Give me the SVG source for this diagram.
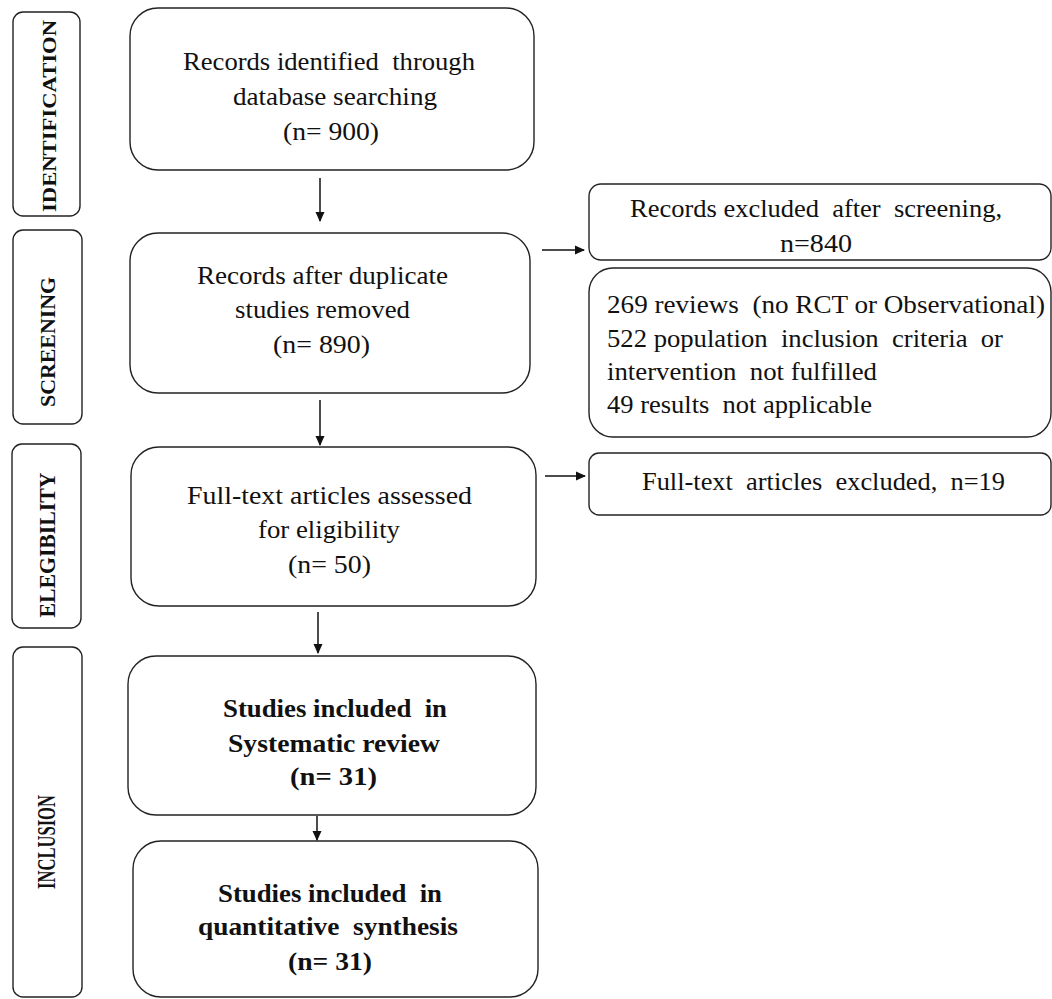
<svg xmlns="http://www.w3.org/2000/svg" width="1052" height="999" viewBox="0 0 1052 999">
<style>
text{font-family:"Liberation Serif","Times New Roman","DejaVu Serif",serif;fill:#111;white-space:pre}
.box{fill:#fff;stroke:#222;stroke-width:1.4}
.t{font-size:25px}
.b{font-size:25px;font-weight:bold}
.s{font-weight:bold;text-anchor:middle}
.c{stroke:#111;stroke-width:1.5;fill:none;marker-end:url(#ah)}
</style>
<defs>
<marker id="ah" markerWidth="10" markerHeight="10" refX="9" refY="5" orient="auto" markerUnits="userSpaceOnUse">
<path d="M0,0.5 L10,5 L0,9.5 Z" fill="#111"/>
</marker>
</defs>
<rect width="1052" height="999" fill="#fff"/>
<g id="side-identification">
<rect class="box" x="13" y="12" width="67" height="204" rx="10"/>
<text class="s" font-size="19.5" transform="translate(56,116) rotate(-90)" textLength="192" lengthAdjust="spacingAndGlyphs">IDENTIFICATION</text>
</g>
<g id="side-screening">
<rect class="box" x="13" y="230" width="69" height="194" rx="10"/>
<text class="s" font-size="22" transform="translate(55,342) rotate(-90)" textLength="130" lengthAdjust="spacingAndGlyphs">SCREENING</text>
</g>
<g id="side-elegibility">
<rect class="box" x="12" y="444" width="69" height="184" rx="10"/>
<text class="s" font-size="23" transform="translate(55,545) rotate(-90)" textLength="145" lengthAdjust="spacingAndGlyphs">ELEGIBILITY</text>
</g>
<g id="side-inclusion">
<rect class="box" x="13" y="647" width="69" height="350" rx="10"/>
<text class="s" font-size="25" transform="translate(55,842) rotate(-90)" textLength="94" lengthAdjust="spacingAndGlyphs">INCLUSION</text>
</g>
<g id="n1">
<rect class="box" x="130" y="8" width="404" height="162" rx="28"/>
<text class="t" x="183" y="70" textLength="292" lengthAdjust="spacingAndGlyphs">Records identified  through</text>
<text class="t" x="233" y="105" textLength="204" lengthAdjust="spacingAndGlyphs">database searching</text>
<text class="t" x="283" y="140" textLength="96" lengthAdjust="spacingAndGlyphs">(n= 900)</text>
</g>
<g id="n2">
<rect class="box" x="130" y="233" width="400" height="160" rx="28"/>
<text class="t" x="197" y="284" textLength="251" lengthAdjust="spacingAndGlyphs">Records after duplicate</text>
<text class="t" x="235" y="318" textLength="175" lengthAdjust="spacingAndGlyphs">studies removed</text>
<text class="t" x="273" y="353" textLength="97" lengthAdjust="spacingAndGlyphs">(n= 890)</text>
</g>
<g id="n3">
<rect class="box" x="131" y="447" width="405" height="159" rx="28"/>
<text class="t" x="187" y="504" textLength="285" lengthAdjust="spacingAndGlyphs">Full-text articles assessed</text>
<text class="t" x="258" y="538" textLength="142" lengthAdjust="spacingAndGlyphs">for eligibility</text>
<text class="t" x="288" y="573" textLength="83" lengthAdjust="spacingAndGlyphs">(n= 50)</text>
</g>
<g id="n4">
<rect class="box" x="128" y="656" width="408" height="159" rx="28"/>
<text class="b" x="223" y="717" textLength="224" lengthAdjust="spacingAndGlyphs">Studies included  in</text>
<text class="b" x="228" y="752" textLength="212" lengthAdjust="spacingAndGlyphs">Systematic review</text>
<text class="b" x="290" y="785" textLength="87" lengthAdjust="spacingAndGlyphs">(n= 31)</text>
</g>
<g id="n5">
<rect class="box" x="133" y="841" width="405" height="156" rx="28"/>
<text class="b" x="218" y="902" textLength="224" lengthAdjust="spacingAndGlyphs">Studies included  in</text>
<text class="b" x="198" y="935" textLength="260" lengthAdjust="spacingAndGlyphs">quantitative  synthesis</text>
<text class="b" x="288" y="970" textLength="84" lengthAdjust="spacingAndGlyphs">(n= 31)</text>
</g>
<g id="r1">
<rect class="box" x="589" y="184" width="462" height="76" rx="12"/>
<text class="t" x="630" y="217" textLength="372" lengthAdjust="spacingAndGlyphs">Records excluded  after  screening,</text>
<text class="t" x="780" y="252" textLength="72" lengthAdjust="spacingAndGlyphs">n=840</text>
</g>
<g id="r2">
<rect class="box" x="589" y="268" width="462" height="169" rx="24"/>
<text class="t" x="607" y="313" textLength="438" lengthAdjust="spacingAndGlyphs">269 reviews  (no RCT or Observational)</text>
<text class="t" x="607" y="347" textLength="396" lengthAdjust="spacingAndGlyphs">522 population  inclusion  criteria  or</text>
<text class="t" x="607" y="380" textLength="270" lengthAdjust="spacingAndGlyphs">intervention  not fulfilled</text>
<text class="t" x="607" y="413" textLength="265" lengthAdjust="spacingAndGlyphs">49 results  not applicable</text>
</g>
<g id="r3">
<rect class="box" x="589" y="453" width="462" height="62" rx="10"/>
<text class="t" x="642" y="490" textLength="363" lengthAdjust="spacingAndGlyphs">Full-text  articles  excluded,  n=19</text>
</g>
<g id="connectors">
<line class="c" x1="320" y1="178" x2="320" y2="221"/>
<line class="c" x1="320" y1="400" x2="320" y2="445"/>
<line class="c" x1="318" y1="612" x2="318" y2="653"/>
<line class="c" x1="317" y1="816" x2="317" y2="840"/>
<line class="c" x1="542" y1="250" x2="584" y2="250"/>
<line class="c" x1="545" y1="476" x2="585" y2="476"/>
</g>
</svg>
